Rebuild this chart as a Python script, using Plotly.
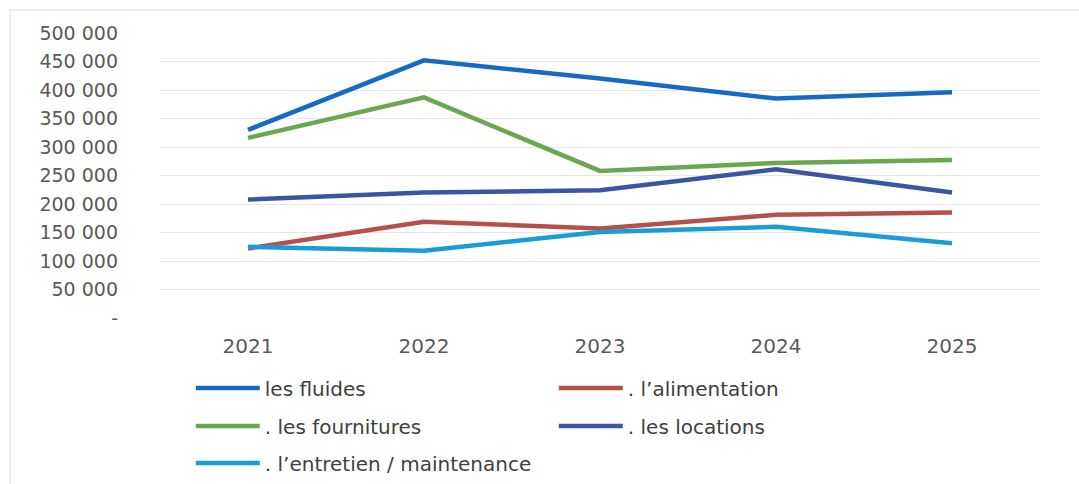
import plotly.graph_objects as go

years = ["2021", "2022", "2023", "2024", "2025"]
series_names = ["les fluides", ". l’alimentation", ". les fournitures", ". les locations", ". l’entretien / maintenance"]
fluides = [330000, 452000, 420000, 385000, 396000]
alimentation = [122000, 169000, 157000, 181000, 185000]
fournitures = [316000, 387000, 258000, 272000, 277000]
locations = [208000, 220000, 224000, 261000, 220000]
entretien = [125000, 118000, 151000, 160000, 131000]
series_values = [fluides, alimentation, fournitures, locations, entretien]
colors = ["#1569C7", "#B5504A", "#6AA84F", "#3A56A3", "#1A9CD4"]
legend_rows = ["legend", "legend", "legend2", "legend2", "legend3"]

y_tickvals = [0, 50000, 100000, 150000, 200000, 250000, 300000, 350000, 400000, 450000, 500000]
y_ticktext = ["-", "50 000", "100 000", "150 000", "200 000", "250 000", "300 000",
              "350 000", "400 000", "450 000", "500 000"]

FONT = "DejaVu Sans, Verdana, sans-serif"

fig = go.Figure()
for name, vals, col, lg in zip(series_names, series_values, colors, legend_rows):
    fig.add_trace(go.Scatter(x=years, y=vals, name=name, mode="lines", legend=lg,
                             line=dict(color=col, width=4.5)))

def leg(ypx):
    return dict(orientation="h", x=0.035, xanchor="left",
                yref="container", y=1 - ypx / 484, yanchor="middle",
                entrywidth=284, entrywidthmode="pixels", itemwidth=64,
                bgcolor="rgba(0,0,0,0)",
                font=dict(family=FONT, size=20, color="#404040"), traceorder="normal")

fig.update_layout(
    width=1079, height=484,
    margin=dict(l=160, r=39, t=33, b=166, autoexpand=False),
    paper_bgcolor="white", plot_bgcolor="white",
    showlegend=True,
    legend=leg(388), legend2=leg(426), legend3=leg(463),
    xaxis=dict(type="category", range=[-0.5, 4.5], showgrid=False, showline=False, zeroline=False,
               ticklabelstandoff=14,
               tickfont=dict(family=FONT, size=20, color="#595959"), ticks=""),
    yaxis=dict(range=[0, 500000], tickvals=y_tickvals, ticktext=y_ticktext,
               showgrid=True, gridcolor="#E6E6E6", gridwidth=1, zeroline=False,
               ticklabelstandoff=41,
               tickfont=dict(family=FONT, size=19, color="#595959")),
    shapes=[dict(type="rect", xref="paper", yref="paper",
                 x0=-150 / 880, x1=1100 / 880, y0=-1.0, y1=(318 - 10) / 285,
                 line=dict(color="#E8E8E8", width=1.5), fillcolor="rgba(0,0,0,0)", layer="below")],
)

fig.write_html("out.html", config={"displayModeBar": False},
               post_script="document.body.style.margin='0';")
